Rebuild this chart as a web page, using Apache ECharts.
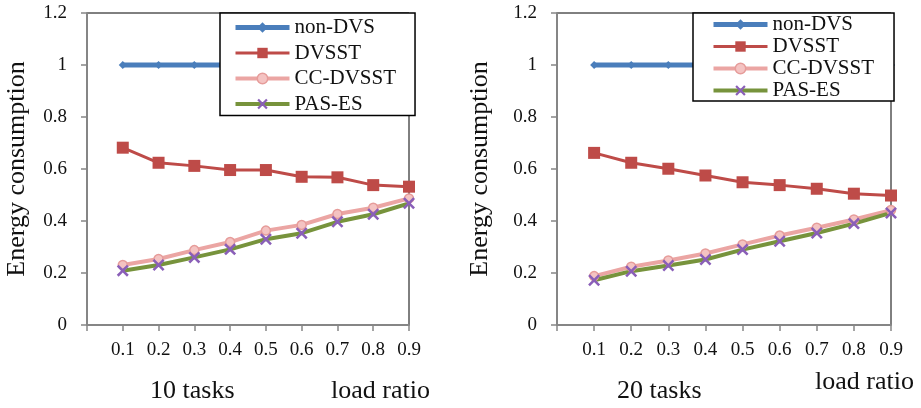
<!DOCTYPE html>
<html>
<head>
<meta charset="utf-8">
<script src="https://cdn.jsdelivr.net/npm/echarts@6/dist/echarts.min.js"></script>
<style>
  html, body { margin: 0; padding: 0; background: #fff; }
  #main { width: 921px; height: 408px; }
</style>
</head>
<body>
<div id="main"></div>
<script>
// load ratio on the x axis
const loadRatio = [0.1, 0.2, 0.3, 0.4, 0.5, 0.6, 0.7, 0.8, 0.9]
const yTicks = [0, 0.2, 0.4, 0.6, 0.8, 1, 1.2]

// 10 tasks
const nonDvs10 = [1, 1, 1, 1, 1, 1, 1, 1, 1]
const dvsst10 = [0.682, 0.624, 0.612, 0.596, 0.596, 0.570, 0.568, 0.538, 0.532]
const ccDvsst10 = [0.231, 0.254, 0.288, 0.319, 0.363, 0.385, 0.427, 0.451, 0.487]
const pasEs10 = [0.209, 0.231, 0.260, 0.291, 0.330, 0.353, 0.397, 0.426, 0.468]

// 20 tasks
const nonDvs20 = [1, 1, 1, 1, 1, 1, 1, 1, 1]
const dvsst20 = [0.662, 0.624, 0.601, 0.575, 0.549, 0.538, 0.524, 0.505, 0.498]
const ccDvsst20 = [0.188, 0.224, 0.248, 0.275, 0.310, 0.344, 0.374, 0.406, 0.442]
const pasEs20 = [0.172, 0.207, 0.229, 0.252, 0.290, 0.322, 0.354, 0.390, 0.431]

const names = ['non-DVS', 'DVSST', 'CC-DVSST', 'PAS-ES']
const serif = '"Liberation Serif", "Times New Roman", serif'
// 'x' marker as a filled outline
const crossPath = 'path://M0,1.5L1.5,0L5,3.5L8.5,0L10,1.5L6.5,5L10,8.5L8.5,10L5,6.5L1.5,10L0,8.5L3.5,5Z'

const pairs = vals => loadRatio.map((x, i) => [x, vals[i]])

function makeSeries(idx, sets) {
  return [
    {
      name: names[0], type: 'line', xAxisIndex: idx, yAxisIndex: idx,
      data: pairs(sets[0]),
      symbol: 'diamond', symbolSize: 8,
      lineStyle: { color: '#4a7ebb', width: 5 },
      itemStyle: { color: '#4a7ebb' }
    },
    {
      name: names[1], type: 'line', xAxisIndex: idx, yAxisIndex: idx,
      data: pairs(sets[1]),
      symbol: 'rect', symbolSize: 12,
      lineStyle: { color: '#be4b48', width: 3 },
      itemStyle: { color: '#be4b48' }
    },
    {
      name: names[2], type: 'line', xAxisIndex: idx, yAxisIndex: idx,
      data: pairs(sets[2]),
      symbol: 'circle', symbolSize: 9,
      lineStyle: { color: '#eba5a3', width: 4 },
      itemStyle: { color: '#f4c3c2', borderColor: '#e69c9a', borderWidth: 1.5 }
    },
    {
      name: names[3], type: 'line', xAxisIndex: idx, yAxisIndex: idx,
      data: pairs(sets[3]),
      symbol: crossPath, symbolSize: 12,
      lineStyle: { color: '#77933c', width: 4 },
      itemStyle: { color: '#8a5fb8' }
    }
  ]
}

const xAxisBase = {
  type: 'value', min: 0, max: 0.9, interval: 0.1,
  axisLine: { lineStyle: { color: '#868686', width: 2 } },
  axisTick: { show: true, length: 6, lineStyle: { color: '#868686', width: 1.5 } },
  axisLabel: {
    margin: 16, color: '#111', fontFamily: serif, fontSize: 19,
    formatter: v => (v === 0 ? '' : v.toFixed(1))
  },
  splitLine: { show: false }
}
const yAxisBase = {
  type: 'value', min: 0, max: 1.2, interval: 0.2,
  name: 'Energy consumption', nameLocation: 'middle', nameRotate: 90,
  nameTextStyle: { fontFamily: serif, fontSize: 26, color: '#111' },
  axisLine: { show: true, lineStyle: { color: '#868686', width: 2 } },
  axisTick: { show: true, length: 6, lineStyle: { color: '#868686', width: 1.5 } },
  axisLabel: {
    margin: 20, color: '#111', fontFamily: serif, fontSize: 19,
    formatter: v => String(yTicks.find(t => Math.abs(t - v) < 1e-9) ?? v)
  },
  splitLine: { show: false }
}

const legendBase = {
  orient: 'vertical', data: names,
  backgroundColor: '#fff', borderColor: '#000', borderWidth: 1.5,
  itemWidth: 54, itemHeight: 13,
  lineStyle: { width: 'inherit' },
  itemStyle: { borderWidth: 'inherit' },
  textStyle: { fontFamily: serif, fontSize: 21, color: '#111' }
}

let chart = echarts.init(document.getElementById('main'))
chart.setOption({
  animation: false,
  grid: [
    { left: 87, right: 512, top: 13, bottom: 83, show: true, borderColor: '#000', borderWidth: 1 },
    { left: 557, right: 30, top: 13, bottom: 83, show: true, borderColor: '#000', borderWidth: 1 }
  ],
  xAxis: [
    Object.assign({ gridIndex: 0 }, xAxisBase),
    Object.assign({ gridIndex: 1 }, xAxisBase)
  ],
  yAxis: [
    Object.assign({ gridIndex: 0, nameGap: 57 }, yAxisBase),
    Object.assign({ gridIndex: 1, nameGap: 64 }, yAxisBase)
  ],
  legend: [
    Object.assign({ left: 220, top: 13, itemGap: 4.5, padding: [4, 19, 1, 13] }, legendBase),
    Object.assign({ left: 693, top: 13, itemGap: 1, padding: [1, 20, 0, 18] }, legendBase)
  ],
  graphic: [
    { type: 'text', left: 150, top: 378, style: { text: '10 tasks', font: '26px ' + serif, fill: '#111' } },
    { type: 'text', left: 331, top: 378, style: { text: 'load ratio', font: '26px ' + serif, fill: '#111' } },
    { type: 'text', left: 617, top: 378, style: { text: '20 tasks', font: '26px ' + serif, fill: '#111' } },
    { type: 'text', left: 815, top: 369, style: { text: 'load ratio', font: '26px ' + serif, fill: '#111' } }
  ],
  series: makeSeries(0, [nonDvs10, dvsst10, ccDvsst10, pasEs10])
    .concat(makeSeries(1, [nonDvs20, dvsst20, ccDvsst20, pasEs20]))
})
window.addEventListener('resize', () => {
  chart.resize()
})
</script>
</body>
</html>
